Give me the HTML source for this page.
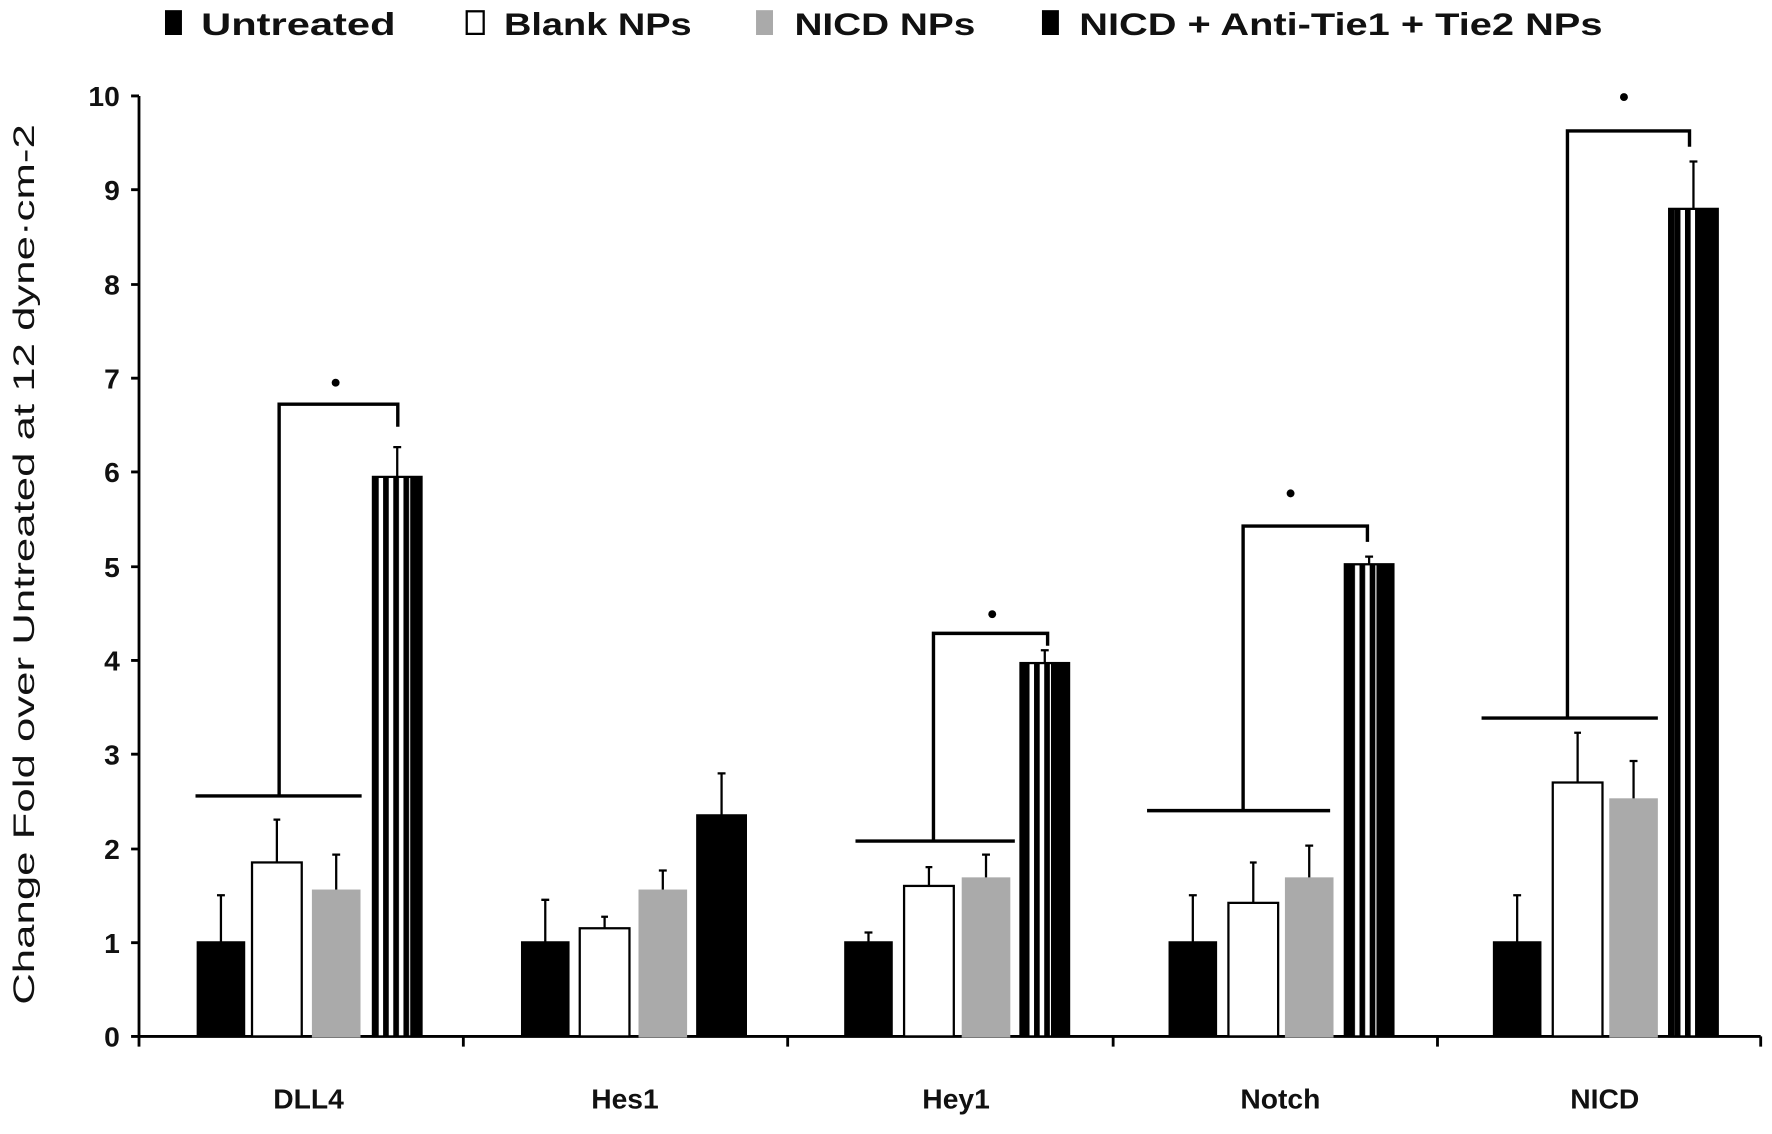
<!DOCTYPE html>
<html><head><style>html,body{margin:0;padding:0;background:#fff}</style></head><body>
<svg width="1772" height="1129" viewBox="0 0 1568 1000" preserveAspectRatio="none" xmlns="http://www.w3.org/2000/svg" font-family="Liberation Sans, sans-serif">
<defs>
<pattern id="st" patternUnits="userSpaceOnUse" width="9" height="40" x="0" y="0">
<rect width="9" height="40" fill="#000"/>
<rect x="2" y="0" width="4" height="40" fill="#fff"/>
</pattern>
</defs>
<g font-size="28" font-weight="bold" fill="#111">
<rect x="146" y="9" width="15" height="22" fill="#000"/><text x="178" y="31" textLength="172" lengthAdjust="spacingAndGlyphs">Untreated</text>
<rect x="413" y="10" width="15" height="20" fill="#fff" stroke="#000" stroke-width="2"/><text x="446" y="31" textLength="166" lengthAdjust="spacingAndGlyphs">Blank NPs</text>
<rect x="669" y="9" width="15" height="22" fill="#aaa"/><text x="703" y="31" textLength="160" lengthAdjust="spacingAndGlyphs">NICD NPs</text>
<rect x="922" y="9" width="15" height="22" fill="#000"/><text x="955" y="31" textLength="463" lengthAdjust="spacingAndGlyphs">NICD + Anti-Tie1 + Tie2 NPs</text>
</g>
<g stroke="#000" stroke-width="2.5" fill="none">
<line x1="123" y1="85" x2="123" y2="918"/>
<line x1="123" y1="918" x2="1558" y2="918"/>
<path d="M116 85H123M116 168H123M116 252H123M116 335H123M116 418H123M116 502H123M116 585H123M116 668H123M116 752H123M116 835H123M116 918H123"/>
<path d="M123 918V927M410 918V927M697 918V927M985 918V927M1272 918V927M1558 918V927"/>
</g>
<g font-size="25" font-weight="bold" fill="#111" text-anchor="end">
<text x="106" y="94">10</text><text x="106" y="177">9</text><text x="106" y="261">8</text><text x="106" y="344">7</text><text x="106" y="427">6</text><text x="106" y="511">5</text><text x="106" y="594">4</text><text x="106" y="677">3</text><text x="106" y="761">2</text><text x="106" y="844">1</text><text x="106" y="927">0</text>
</g>
<g font-size="25" font-weight="bold" fill="#111" text-anchor="middle">
<text x="273" y="982">DLL4</text><text x="553" y="982">Hes1</text><text x="846" y="982">Hey1</text><text x="1133" y="982">Notch</text><text x="1420" y="982">NICD</text>
</g>
<text transform="translate(30,500) rotate(-90)" font-size="26" fill="#111" text-anchor="middle" textLength="780" lengthAdjust="spacingAndGlyphs">Change Fold over Untreated at 12 dyne·cm-2</text>
<g stroke="#000" stroke-width="2">
<path d="M195.5 793V835M192 793H199M245 726V764M242 726H248M297.5 757V789M294 757H301M351.5 396V423M348 396H355"/>
<path d="M482.5 797V835M479 797H486M535 812V822M532 812H538M586.5 771V789M583 771H590M638.5 685V722M635 685H642"/>
<path d="M768.5 826V835M765 826H772M822 768V785M819 768H825M872.5 757V778M869 757H876M924.5 576V587M921 576H928"/>
<path d="M1055.5 793V835M1052 793H1059M1109 764V800M1106 764H1112M1158.5 749V778M1155 749H1162M1211.5 493V500M1208 493H1215"/>
<path d="M1342.5 793V835M1339 793H1346M1396 649V693M1393 649H1399M1445.5 674V708M1442 674H1449M1498.5 143V185M1495 143H1502"/>
</g>
<g stroke="#000" stroke-width="2">
<rect x="175" y="834.7" width="41" height="83.3" fill="#000"/>
<rect x="223" y="763.9" width="44" height="154.1" fill="#fff"/>
<rect x="277" y="788.9" width="41" height="129.1" fill="#aaa" stroke="#aaa"/>
<rect x="330" y="422.4" width="43" height="495.6" fill="url(#st)"/>
<rect x="462" y="834.7" width="41" height="83.3" fill="#000"/>
<rect x="513" y="822.2" width="44" height="95.8" fill="#fff"/>
<rect x="566" y="788.9" width="41" height="129.1" fill="#aaa" stroke="#aaa"/>
<rect x="617" y="722.2" width="43" height="195.8" fill="#000"/>
<rect x="748" y="834.7" width="41" height="83.3" fill="#000"/>
<rect x="800" y="784.7" width="44" height="133.3" fill="#fff"/>
<rect x="852" y="778.1" width="41" height="139.9" fill="#aaa" stroke="#aaa"/>
<rect x="903" y="587.3" width="43" height="330.7" fill="url(#st)"/>
<rect x="1035" y="834.7" width="41" height="83.3" fill="#000"/>
<rect x="1087" y="799.7" width="44" height="118.3" fill="#fff"/>
<rect x="1138" y="778.1" width="41" height="139.9" fill="#aaa" stroke="#aaa"/>
<rect x="1190" y="499.8" width="43" height="418.2" fill="url(#st)"/>
<rect x="1322" y="834.7" width="41" height="83.3" fill="#000"/>
<rect x="1374" y="693.1" width="44" height="224.9" fill="#fff"/>
<rect x="1425" y="708.1" width="41" height="209.9" fill="#aaa" stroke="#aaa"/>
<rect x="1477" y="185" width="43" height="733" fill="url(#st)"/>
</g>
<g fill="#000">
<rect x="330" y="422.4" width="5" height="495.6"/><rect x="363" y="422.4" width="10" height="495.6"/>
<rect x="903" y="587.3" width="5" height="330.7"/><rect x="930" y="587.3" width="16" height="330.7"/>
<rect x="1190" y="499.8" width="5" height="418.2"/><rect x="1218" y="499.8" width="15" height="418.2"/>
<rect x="1477" y="185" width="5" height="733"/><rect x="1500" y="185" width="20" height="733"/>
</g>
<g stroke="#000" stroke-width="3" fill="none">
<path d="M173 705H320M247 705V358H352V378"/>
<path d="M757 745H898M826 745V561H927V572"/>
<path d="M1015 718H1177M1100 718V466H1210V480"/>
<path d="M1311 636H1467M1387 636V116H1495V130"/>
</g>
<g fill="#000"><circle cx="297" cy="339" r="3.5"/><circle cx="878" cy="544" r="3.5"/><circle cx="1142" cy="437" r="3.5"/><circle cx="1437" cy="86" r="3.5"/></g>
</svg>
</body></html>
